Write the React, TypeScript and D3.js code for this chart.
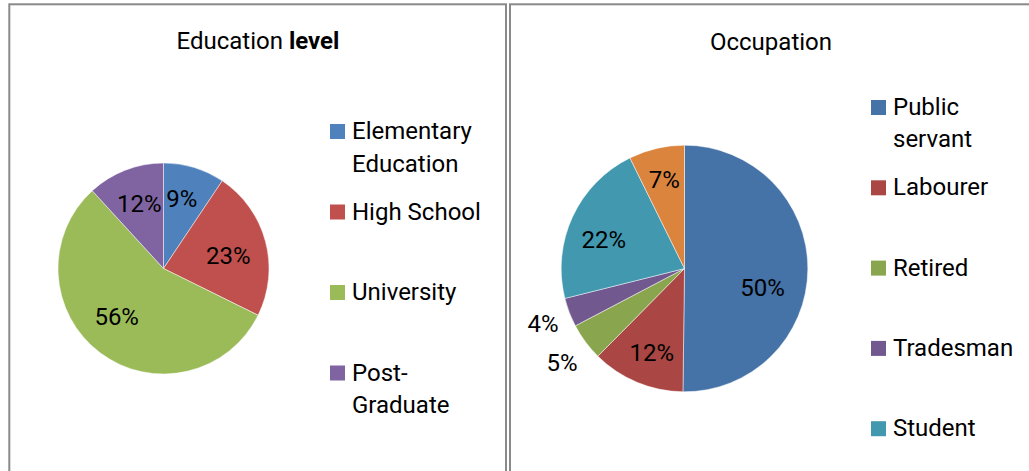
import React from "react";
import * as d3 from "d3";

// ---------- data ----------
const eduCategories = ["Elementary\nEducation", "High School", "University", "Post-\nGraduate"];
const eduValues = [9.4, 22.9, 55.9, 11.8];
const eduColors = ["#4F81BD", "#C0504D", "#9BBB59", "#8064A2"];

const occCategories = ["Public\nservant", "Labourer", "Retired", "Tradesman", "Student", "Other"];
const occValues = [50.2, 12.2, 4.9, 3.8, 21.6, 7.3];
const occColors = ["#4572A7", "#AA4643", "#89A54E", "#71588F", "#4198AF", "#DB843D"];

// label nudges (layout only)
const eduLabelOffsets: [number, number][] = [[-1.6, -5], [-1, 4], [-6, -6], [0.4, -2]];
const occLabelOffsets: [number, number][] = [[-11, 18], [1.5, 2], [0.5, 2.4], [1.4, 0], [0, 8], [0, -2]];

const W = 1029;
const H = 471;
const FONT = "Roboto, 'Noto Sans', sans-serif";

type PieProps = {
  cx: number;
  cy: number;
  r: number;
  values: number[];
  colors: string[];
  insideR: number;
  outsideR: number;
  outsideBelow: number;
  offsets?: [number, number][];
  fs: number;
};

function Pie({ cx, cy, r, values, colors, insideR, outsideR, outsideBelow, offsets, fs }: PieProps) {
  const total = d3.sum(values);
  const arcs = d3.pie<number>().sort(null).value((d) => d)(values);
  const arcGen = d3.arc<d3.PieArcDatum<number>>().innerRadius(0).outerRadius(r);
  return (
    <g transform={`translate(${cx},${cy})`}>
      {arcs.map((a, i) => (
        <path key={i} d={arcGen(a) || ""} fill={colors[i]} stroke="#ffffff" strokeWidth={0.6} strokeOpacity={0.8} />
      ))}
      {arcs.map((a, i) => {
        const pct = (a.data / total) * 100;
        const mid = (a.startAngle + a.endAngle) / 2;
        const rr = pct < outsideBelow ? outsideR : insideR;
        const off = offsets ? offsets[i] : [0, 0];
        const x = Math.sin(mid) * rr + off[0];
        const y = -Math.cos(mid) * rr + off[1];
        return (
          <text key={"t" + i} x={x} y={y + fs * 0.355} textAnchor="middle" fontFamily={FONT} fontSize={fs} fill="#000">
            {Math.round(pct) + "%"}
          </text>
        );
      })}
    </g>
  );
}

type LegendProps = { x: number; y: number; items: string[]; colors: string[]; step: number; lineH: number; fs: number };

function Legend({ x, y, items, colors, step, lineH, fs }: LegendProps) {
  return (
    <g>
      {items.map((it, i) => {
        const base = y + i * step;
        if (base - fs * 0.75 > H) return null;
        const lines = it.split("\n");
        return (
          <g key={i}>
            <rect x={x} y={base - 15} width={15} height={15} fill={colors[i]} />
            <text x={x + 22} y={base} fontFamily={FONT} fontSize={fs} fill="#000">
              {lines.map((l, j) => (
                <tspan key={j} x={x + 22} dy={j === 0 ? 0 : lineH}>
                  {l}
                </tspan>
              ))}
            </text>
          </g>
        );
      })}
    </g>
  );
}

export default function App() {
  return (
    <svg width={W} height={H} style={{ position: "absolute", left: 0, top: 0, background: "#fff" }}>
      <rect x={0} y={0} width={W} height={H} fill="#fff" />
      {/* panel borders */}
      <rect x={9.3} y={4.3} width={496.7} height={H + 20} fill="none" stroke="#8a8a8a" strokeWidth={2} />
      <rect x={510} y={4.3} width={540} height={H + 20} fill="none" stroke="#8a8a8a" strokeWidth={2} />

      {/* Education level */}
      <text x={258} y={49.3} textAnchor="middle" fontFamily={FONT} fontSize={24} fill="#000">
        Education <tspan fontWeight="bold">level</tspan>
      </text>
      <Pie cx={163.5} cy={268.5} r={105.5} values={eduValues} colors={eduColors} insideR={68} outsideR={130} outsideBelow={0} offsets={eduLabelOffsets} fs={24} />
      <Legend x={330} y={139} items={eduCategories} colors={eduColors} step={80.5} lineH={32.7} fs={24} />

      {/* Occupation */}
      <text x={771} y={50} textAnchor="middle" fontFamily={FONT} fontSize={24} fill="#000">
        Occupation
      </text>
      <Pie
        cx={684.5}
        cy={268.5}
        r={123.3}
        values={occValues}
        colors={occColors}
        insideR={89}
        outsideR={153}
        outsideBelow={6}
        offsets={occLabelOffsets}
        fs={24}
      />
      <Legend x={871} y={115} items={occCategories} colors={occColors} step={80.3} lineH={32} fs={24} />
    </svg>
  );
}
